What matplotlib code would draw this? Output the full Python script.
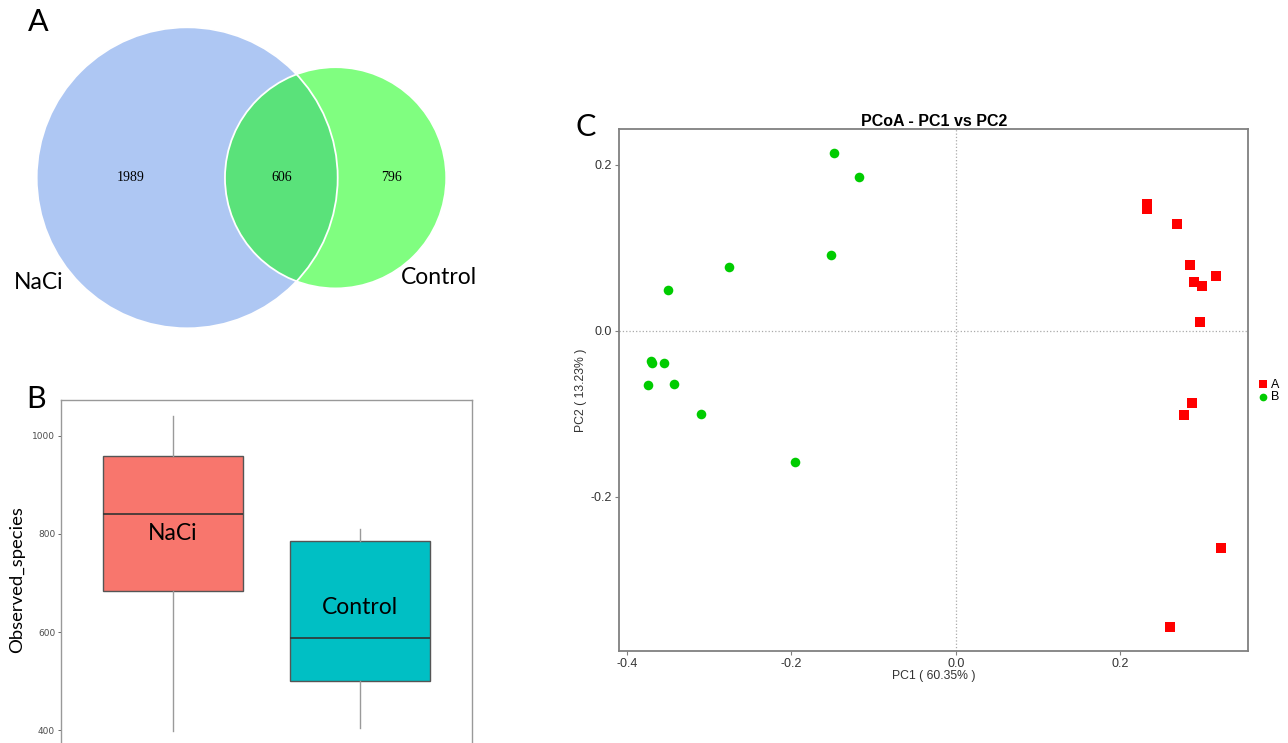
import numpy as np
import matplotlib
matplotlib.use('Agg')
import matplotlib.pyplot as plt
from matplotlib.patches import Circle

# --- panel A: Venn counts ---
venn_names = ["NaCi", "Control"]
venn_only = [1989, 796]
venn_shared = 606

# --- panel B: box statistics (Observed_species) ---
box_groups = ["NaCi", "Control"]
box_whislo = [399, 404]
box_q1 = [684, 500]
box_med = [840, 587]
box_q3 = [959, 786]
box_whishi = [1040, 809]
box_colors = ["#F8766D", "#00BFC4"]

# --- panel C: PCoA coordinates ---
pc1_a = [0.232, 0.233, 0.269, 0.285, 0.290, 0.299, 0.317, 0.297, 0.287, 0.277, 0.322, 0.260]
pc2_a = [0.153, 0.147, 0.129, 0.079, 0.059, 0.054, 0.066, 0.011, -0.087, -0.102, -0.262, -0.358]
pc1_b = [-0.148, -0.117, -0.152, -0.276, -0.350, -0.371, -0.369, -0.355, -0.374, -0.343, -0.310, -0.196]
pc2_b = [0.215, 0.185, 0.091, 0.077, 0.049, -0.037, -0.039, -0.039, -0.066, -0.064, -0.101, -0.158]

W, H = 1288, 743
fig = plt.figure(figsize=(W / 100, H / 100), dpi=100)
label_font = "Lato"


def lens_area(d, r1, r2):
    a1 = np.arccos((d**2 + r1**2 - r2**2) / (2 * d * r1))
    a2 = np.arccos((d**2 + r2**2 - r1**2) / (2 * d * r2))
    k = np.sqrt((-d + r1 + r2) * (d + r1 - r2) * (d - r1 + r2) * (d + r1 + r2))
    return r1**2 * a1 + r2**2 * a2 - 0.5 * k


#--- Panel A ---#
r1 = np.sqrt((venn_only[0] + venn_shared) / np.pi)
r2 = np.sqrt((venn_only[1] + venn_shared) / np.pi)
lo, hi = r1 - r2 + 1e-6, r1 + r2 - 1e-6
for _ in range(60):
    mid = (lo + hi) / 2
    if lens_area(mid, r1, r2) > venn_shared:
        lo = mid
    else:
        hi = mid
d = (lo + hi) / 2

px = 150.5 / r1  # pixels per data unit
cx, cy = 187.2, 177.8  # pixel centre of the big circle
axA = fig.add_axes([0, 1 - 340 / H, 500 / W, 340 / H])
axA.set_xlim(-cx / px, (500 - cx) / px)
axA.set_ylim(-(340 - cy) / px, cy / px)
axA.axis("off")

blue = Circle((0, 0), r1, facecolor="#AEC7F3", edgecolor="none")
green = Circle((d, 0), r2, facecolor="#80FE80", edgecolor="none")
axA.add_patch(blue)
axA.add_patch(green)
lens = Circle((d, 0), r2, facecolor="#5AE27A", edgecolor="none")
axA.add_patch(lens)
lens.set_clip_path(blue)
axA.add_patch(Circle((0, 0), r1, facecolor="none", edgecolor="white", lw=1.3))
axA.add_patch(Circle((d, 0), r2, facecolor="none", edgecolor="white", lw=1.3))

num_font = dict(family="Liberation Serif", fontsize=10, ha="center", va="center")
axA.text((-r1 + d - r2) / 2, 0, str(venn_only[0]), **num_font)
axA.text((d - r2 + r1) / 2, 0, str(venn_shared), **num_font)
axA.text((r1 + d + r2) / 2, 0, str(venn_only[1]), **num_font)
axA.text(-28.3, -19.9, venn_names[0], family=label_font, fontsize=16.5, ha="center", va="center")
axA.text(48.1, -19.0, venn_names[1], family=label_font, fontsize=16.5, ha="center", va="center")

#--- Panel B ---#
axB = fig.add_axes([60.7 / W, 1 - 760 / H, (472.3 - 60.7) / W, 360 / H])
stats = []
for i, g in enumerate(box_groups):
    stats.append(dict(label=g, whislo=box_whislo[i], q1=box_q1[i], med=box_med[i],
                      q3=box_q3[i], whishi=box_whishi[i], fliers=[]))
bp = axB.bxp(stats, positions=[1, 2], widths=0.75, patch_artist=True, showcaps=False,
             showfliers=False,
             boxprops=dict(edgecolor="#555555", linewidth=1.0),
             medianprops=dict(color="#333333", linewidth=1.2),
             whiskerprops=dict(color="#9a9a9a", linewidth=1.0))
for patch, c in zip(bp["boxes"], box_colors):
    patch.set_facecolor(c)
axB.set_xlim(0.4, 2.6)
axB.set_ylim(339.5, 1072.7)
axB.set_xticks([])
axB.set_yticks([400, 600, 800, 1000])
axB.tick_params(axis="y", labelsize=6.5, labelcolor="#4d4d4d", color="#4d4d4d", length=2.5, width=0.6, pad=1.5)
for s in axB.spines.values():
    s.set_color("#999999")
    s.set_linewidth(1.0)
axB.set_ylabel("Observed_species", family=label_font, fontsize=13.3, labelpad=5)
axB.text(1, 800, box_groups[0], family=label_font, fontsize=16.5, ha="center", va="center")
axB.text(2, 650, box_groups[1], family=label_font, fontsize=16.5, ha="center", va="center")

#--- Panel C ---#
axC = fig.add_axes([619.3 / W, 1 - 650.7 / H, (1248.3 - 619.3) / W, (650.7 - 129.3) / H])
axC.scatter(pc1_a, pc2_a, marker="s", s=48, color="#FF0000", linewidths=0, label="A", zorder=3)
axC.scatter(pc1_b, pc2_b, marker="o", s=48, color="#00CC00", linewidths=0, label="B", zorder=3)
axC.axhline(0, color="#aaaaaa", ls=":", lw=0.9, zorder=1)
axC.axvline(0, color="#aaaaaa", ls=":", lw=0.9, zorder=1)
axC.set_xlim(-0.409, 0.3557)
axC.set_ylim(-0.386, 0.243)
axC.set_xticks([-0.4, -0.2, 0.0, 0.2], ["-0.4", "-0.2", "0.0", "0.2"])
axC.set_yticks([-0.2, 0.0, 0.2], ["-0.2", "0.0", "0.2"])
axC.tick_params(labelsize=9, labelcolor="#333333", color="#808080", length=3, width=0.8, pad=2)
for lab in axC.get_xticklabels() + axC.get_yticklabels():
    lab.set_family("Liberation Sans")
for s in axC.spines.values():
    s.set_color("#808080")
    s.set_linewidth(1.3)
axC.set_title("PCoA - PC1 vs PC2", family="Liberation Sans", fontsize=11.5, fontweight="bold", pad=2)
axC.set_xlabel("PC1 ( 60.35% )", family="Liberation Sans", fontsize=8.8, labelpad=0, color="#333333")
axC.set_ylabel("PC2 ( 13.23% )", family="Liberation Sans", fontsize=8.8, labelpad=3, color="#333333")
leg = axC.legend(loc="center left", bbox_to_anchor=(1.006, 0.498), frameon=False,
                 prop=dict(family="Liberation Sans", size=9), handlelength=0.8,
                 handletextpad=0.2, labelspacing=0.05, borderpad=0, markerscale=0.8)

# panel letters
fig.text(38 / W, 1 - 22 / H, "A", family=label_font, fontsize=22, ha="center", va="center")
fig.text(36 / W, 1 - 399 / H, "B", family=label_font, fontsize=22, ha="center", va="center")
fig.text(586 / W, 1 - 127 / H, "C", family=label_font, fontsize=22, ha="center", va="center")

fig.savefig("out.png", dpi=100)
